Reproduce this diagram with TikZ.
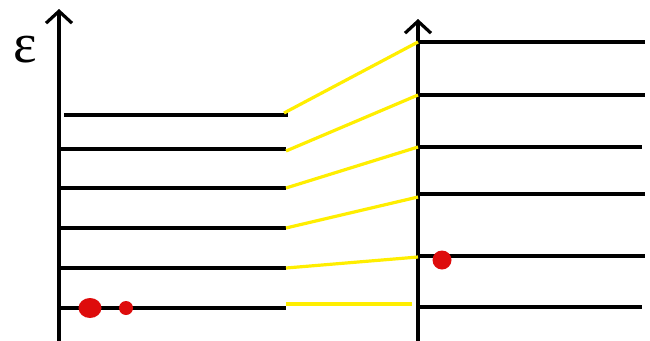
\documentclass[tikz,border=0pt]{standalone}
\usepackage{fontspec}
\newfontfamily\epsfont{Liberation Serif}
\usetikzlibrary{arrows.meta}
\definecolor{dotred}{RGB}{222,12,12}
\definecolor{linkyellow}{RGB}{255,238,0}
\begin{document}
\begin{tikzpicture}[x=1pt, y=-1pt, line width=3.2pt,
    >={Straight Barb[length=12pt,width=26pt]},
    level/.style={draw=black},
    link/.style={draw=linkyellow},
    dot/.style={fill=dotred}]
    \useasboundingbox (0,0) rectangle (650,340);

    % left side
    \draw[->] (59,341) -- (59,9);
    \node[font=\epsfont\fontsize{56}{56}\selectfont] (eps) at (25,50) {ε};

    \draw[level] (64,115) -- (288,115) coordinate (l6);
    \draw[level] (59,149) -- (286,149) coordinate (l5);
    \draw[level] (59,188) -- (286,188) coordinate (l4);
    \draw[level] (59,228) -- (286,228) coordinate (l3);
    \draw[level] (59,268) -- (286,268) coordinate (l2);
    \draw[level] (59,308) -- (286,308);
    \coordinate (l1) at (286,304);

    \fill[dot] (90,308) ellipse (11.5 and 10);
    \fill[dot] (126,308) circle (7);

    % right side
    \draw[->] (418,341) -- (418,19);

    \draw[level] (418,42) -- (645,42);
    \draw[level] (418,95) -- (645,95);
    \draw[level] (418,147) -- (642,147);
    \draw[level] (418,194) -- (645,194);
    \draw[level] (418,256) -- (645,256);
    \draw[level] (418,307) -- (642,307);

    \coordinate (r6) at (418,42);
    \coordinate (r5) at (418,95);
    \coordinate (r4) at (418,147);
    \coordinate (r3) at (418,197);
    \coordinate (r2) at (418,257);
    \coordinate (r1) at (412,304);

    \fill[dot] (442,260) circle (9.5);

    % correlation lines
    \draw[link] (284,113) -- (r6);
    \draw[link] (l5) ++(0,2) -- (r5);
    \draw[link] (l4) -- (r4);
    \draw[link] (l3) -- (r3);
    \draw[link] (l2) -- (r2);
    \draw[link] (l1) -- (r1);
\end{tikzpicture}
\end{document}
